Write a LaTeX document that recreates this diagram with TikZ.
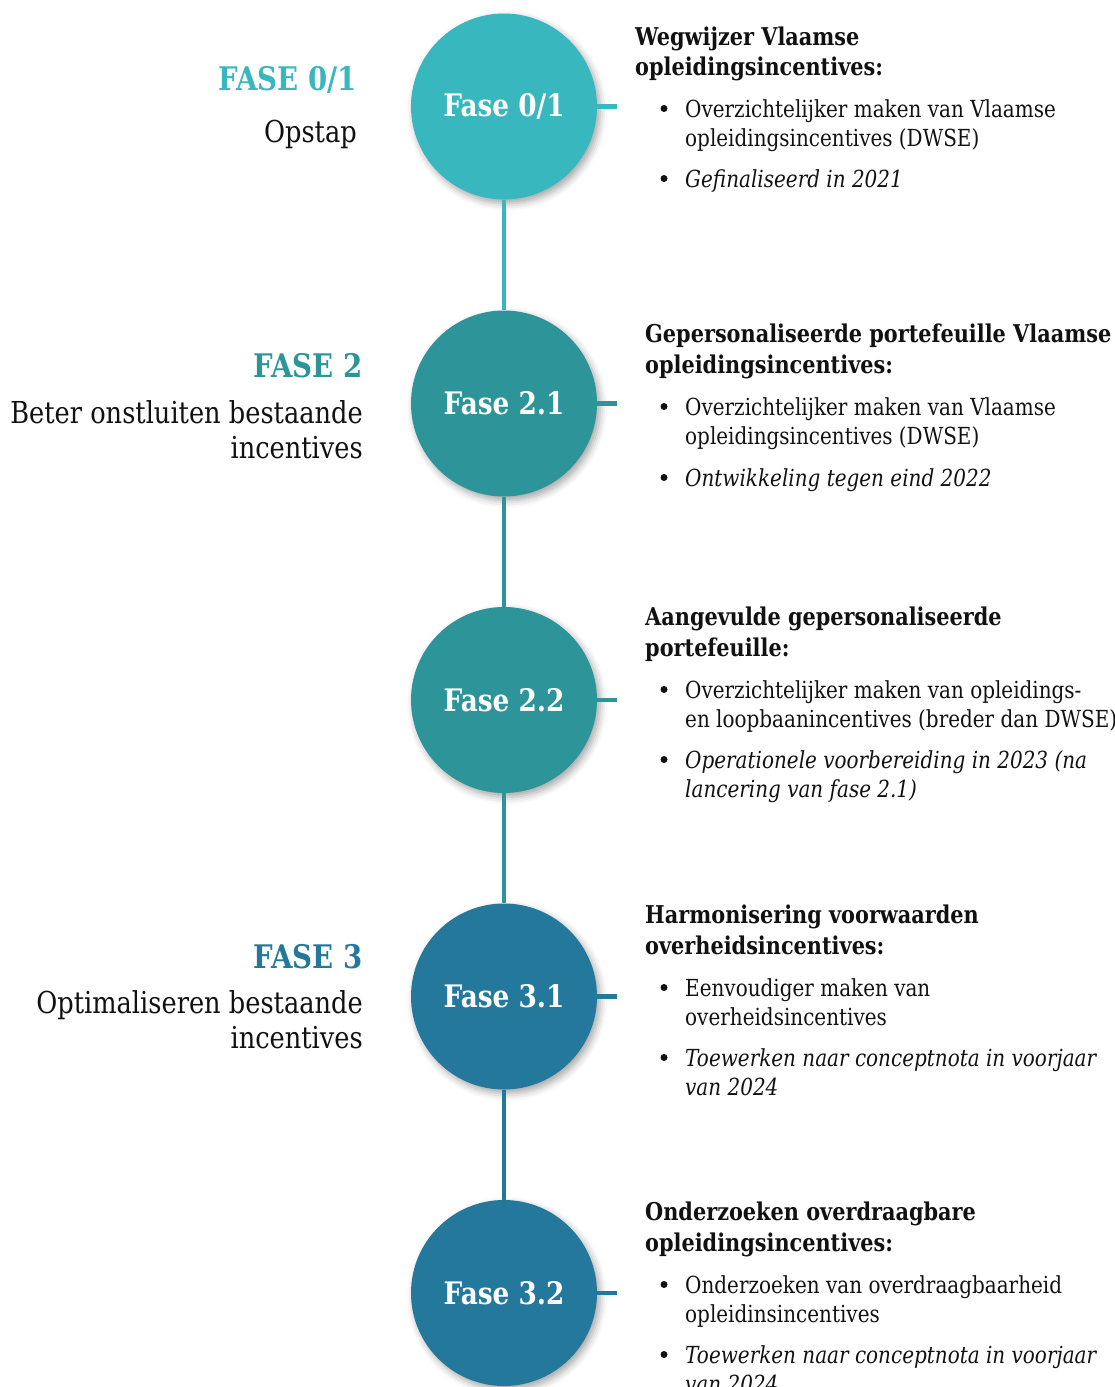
\documentclass[tikz,border=0pt]{standalone}
\usepackage{fontspec}
\setmainfont{DejaVu Serif}[FakeStretch=0.85]
\usetikzlibrary{shadows.blur}
\definecolor{cA}{HTML}{38B7BE}
\definecolor{cB}{HTML}{2D9599}
\definecolor{cC}{HTML}{24789B}
\definecolor{txt}{HTML}{111111}
\begin{document}
\begin{tikzpicture}[x=1pt,y=-1pt,
  ttl/.style={anchor=base west, inner sep=0pt, text=txt, font=\fontsize{24.5}{30}\selectfont\bfseries},
  body/.style={anchor=base west, inner sep=0pt, text=txt, font=\fontsize{23.5}{29}\selectfont},
  bodyit/.style={anchor=base west, inner sep=0pt, text=txt, font=\fontsize{23.5}{29}\selectfont\itshape},
  bul/.style={circle, fill=txt, minimum size=7pt, inner sep=0pt, yshift=8.5pt},
  phase/.style={anchor=base east, inner sep=0pt, font=\fontsize{32.5}{36}\selectfont\bfseries},
  sub/.style={anchor=base east, inner sep=0pt, text=txt, font=\fontsize{30.2}{36}\selectfont},
  circ/.style={circle, minimum size=186pt, inner sep=0pt, text=white,
    font=\fontsize{31}{32}\selectfont\bfseries,
    blur shadow={shadow xshift=3pt, shadow yshift=-4pt, shadow blur radius=7pt, shadow opacity=35}},
  seg/.style={line width=4.5pt},
]
\path[use as bounding box] (0,0) rectangle (1115,1387);
\clip (0,0) rectangle (1115,1387);

% circles
\node[circ, fill=cA] (c1) at (504,106.5) {Fase 0/1};
\node[circ, fill=cB] (c2) at (504,403.5) {Fase 2.1};
\node[circ, fill=cB] (c3) at (504,700) {Fase 2.2};
\node[circ, fill=cC] (c4) at (504,996.5) {Fase 3.1};
\node[circ, fill=cC] (c5) at (504,1293) {Fase 3.2};

% vertical connectors
\draw[seg, cA] (c1.south) -- (c2.north);
\draw[seg, cB] (c2.south) -- (c3.north);
\draw[seg, cB] (c3.south) -- (c4.north);
\draw[seg, cC] (c4.south) -- (c5.north);

% ticks
\coordinate (t1) at (617,106.5);
\coordinate (t2) at (617,403.5);
\coordinate (t3) at (617,700);
\coordinate (t4) at (617,996.5);
\coordinate (t5) at (617,1293);
\draw[seg, cA] (c1.east) -- (t1);
\draw[seg, cB] (c2.east) -- (t2);
\draw[seg, cB] (c3.east) -- (t3);
\draw[seg, cC] (c4.east) -- (t4);
\draw[seg, cC] (c5.east) -- (t5);

% left labels
\node[phase, text=cA] (p1) at (357,90) {FASE 0/1};
\node[sub] (p1a) at (357,142) {Opstap};
\node[phase, text=cB] (p2) at (363,377) {FASE 2};
\node[sub] (p2a) at (363,423) {Beter onstluiten bestaande};
\node[sub] (p2b) at (363,458) {incentives};
\node[phase, text=cC] (p3) at (363,968) {FASE 3};
\node[sub] (p3a) at (363,1013) {Optimaliseren bestaande};
\node[sub] (p3b) at (363,1048) {incentives};

% block 1
\node[ttl] (a1) at (635,45) {Wegwijzer Vlaamse};
\node[ttl] (a2) at (635,75) {opleidingsincentives:};
\node[bul] (ab1) at (664,117) {};
\node[body] (a3) at (685,117) {Overzichtelijker maken van Vlaamse};
\node[body] (a4) at (685,146) {opleidingsincentives (DWSE)};
\node[bul] (ab2) at (664,187) {};
\node[bodyit] (a5) at (685,187) {Gefinaliseerd in 2021};

% block 2
\node[ttl] (b1) at (645,342) {Gepersonaliseerde portefeuille Vlaamse};
\node[ttl] (b2) at (645,373) {opleidingsincentives:};
\node[bul] (bb1) at (664,415) {};
\node[body] (b3) at (685,415) {Overzichtelijker maken van Vlaamse};
\node[body] (b4) at (685,444) {opleidingsincentives (DWSE)};
\node[bul] (bb2) at (664,486) {};
\node[bodyit] (b5) at (685,486) {Ontwikkeling tegen eind 2022};

% block 3
\node[ttl] (d1) at (645,625) {Aangevulde gepersonaliseerde};
\node[ttl] (d2) at (645,656) {portefeuille:};
\node[bul] (db1) at (664,698) {};
\node[body] (d3) at (685,698) {Overzichtelijker maken van opleidings-};
\node[body] (d4) at (685,727) {en loopbaanincentives (breder dan DWSE)};
\node[bul] (db2) at (664,768) {};
\node[bodyit] (d5) at (685,768) {Operationele voorbereiding in 2023 (na};
\node[bodyit] (d6) at (685,797) {lancering van fase 2.1)};

% block 4
\node[ttl] (e1) at (645,923) {Harmonisering voorwaarden};
\node[ttl] (e2) at (645,954) {overheidsincentives:};
\node[bul] (eb1) at (664,996) {};
\node[body] (e3) at (685,996) {Eenvoudiger maken van};
\node[body] (e4) at (685,1025) {overheidsincentives};
\node[bul] (eb2) at (664,1066) {};
\node[bodyit] (e5) at (685,1066) {Toewerken naar conceptnota in voorjaar};
\node[bodyit] (e6) at (685,1095) {van 2024};

% block 5
\node[ttl] (f1) at (645,1220) {Onderzoeken overdraagbare};
\node[ttl] (f2) at (645,1251) {opleidingsincentives:};
\node[bul] (fb1) at (664,1293) {};
\node[body] (f3) at (685,1293) {Onderzoeken van overdraagbaarheid};
\node[body] (f4) at (685,1322) {opleidinsincentives};
\node[bul] (fb2) at (664,1363) {};
\node[bodyit] (f5) at (685,1363) {Toewerken naar conceptnota in voorjaar};
\node[bodyit] (f6) at (685,1392) {van 2024};
\end{tikzpicture}
\end{document}
